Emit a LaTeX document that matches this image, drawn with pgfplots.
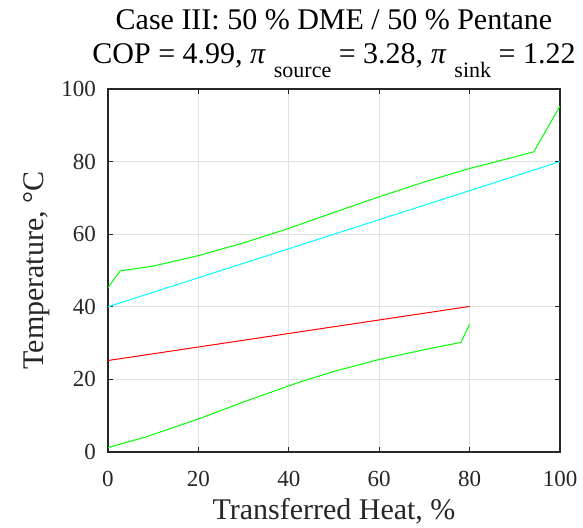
\documentclass[border=0pt]{standalone}
\usepackage{fontspec}
\setmainfont{Liberation Serif}
\newfontfamily\tnr{Liberation Serif}
\usepackage{pgfplots}
\pgfplotsset{compat=1.18}
\definecolor{axc}{gray}{0.15}
\definecolor{gridc}{gray}{0.88}
\definecolor{mgreen}{rgb}{0,1,0}
\definecolor{mcyan}{rgb}{0,1,1}
\definecolor{mred}{rgb}{1,0,0}
\begin{document}
\begin{tikzpicture}
\useasboundingbox (-108pt,-75pt) rectangle (475pt,452pt);
\begin{axis}[
  at={(0pt,0pt)}, anchor=south west,
  scale only axis, width=452pt, height=363pt,
  xmin=0, xmax=100, ymin=0, ymax=100,
  xtick={0,20,40,60,80,100}, ytick={0,20,40,60,80,100},
  grid=major,
  major grid style={color=gridc, line width=0.8pt},
  axis line style={color=axc, line width=1.3pt},
  every tick/.style={color=axc, line width=1.3pt},
  major tick length=5pt, tick align=inside,
  /pgf/number format/assume math mode=true,
  tick label style={font=\tnr\fontsize{23}{26}\selectfont, color=axc},
  xticklabel style={anchor=base, inner sep=0pt, yshift=-34pt},
  yticklabel style={anchor=east, inner sep=0pt, xshift=-12pt},
  xlabel={Transferred Heat, \%},
  ylabel={Temperature, °C},
  label style={font=\tnr\fontsize{30}{34}\selectfont, color=axc},
  xlabel style={at={(axis description cs:0.5,-0.1873)}, anchor=base, inner sep=0pt},
  ylabel style={at={(axis description cs:-0.1438,0.5)}, anchor=base, inner sep=0pt},
  title={Case III: 50 \% DME / 50 \% Pentane\\COP = 4.99, \textit{π}\hspace{8pt}\raisebox{-14pt}{\fontsize{22}{24}\selectfont source} = 3.28, \textit{π}\hspace{8pt}\raisebox{-14pt}{\fontsize{22}{24}\selectfont sink} = 1.22},
  title style={at={(axis description cs:0.5,1)}, anchor=south, inner sep=0pt, yshift=5pt, align=center, font=\tnr\fontsize{30}{34}\selectfont, color=black},
]
\addplot[mgreen, line width=1pt] coordinates {
(0,45.3) (2.7,49.9) (10,51.2) (20,54.1) (30,57.6) (40,61.6) (50,66.0) (60,70.3) (70,74.4) (80,78.1) (90,81.3) (94.2,82.7) (100,95.3)};
\addplot[mcyan, line width=1pt] coordinates {(0,40) (100,80)};
\addplot[mred, line width=1pt] coordinates {(0,25.2) (80,40.1)};
\addplot[mgreen, line width=1pt] coordinates {
(0,1.2) (8.5,4.2) (20,9.1) (30,13.8) (42.5,19.3) (50,22.2) (60,25.5) (70,28.2) (78.1,30.2) (80,35.2)};
\end{axis}
\end{tikzpicture}
\end{document}
